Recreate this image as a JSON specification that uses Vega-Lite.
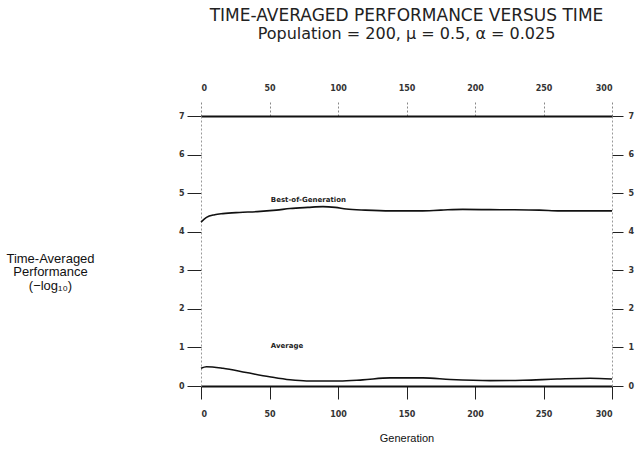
{
  "$schema": "https://vega.github.io/schema/vega-lite/v6.json",
  "width": 411,
  "height": 270,
  "autosize": {"type": "none"},
  "padding": {"left": 201, "top": 116, "right": 23, "bottom": 66},
  "background": "white",
  "title": {
    "text": "TIME-AVERAGED PERFORMANCE VERSUS TIME",
    "subtitle": "Population = 200, μ = 0.5, α = 0.025",
    "font": "DejaVu Sans",
    "fontSize": 17,
    "fontWeight": "normal",
    "subtitleFont": "DejaVu Sans",
    "subtitleFontSize": 16,
    "subtitlePadding": 1,
    "anchor": "middle",
    "offset": 41,
    "color": "#222",
    "subtitleColor": "#222"
  },
  "config": {"view": {"stroke": null}},
  "layer": [
    {
      "data": {
        "values": [
          {"gen": 0, "value": 4.25, "series": "Best-of-Generation"},
          {"gen": 4, "value": 4.37, "series": "Best-of-Generation"},
          {"gen": 10, "value": 4.44, "series": "Best-of-Generation"},
          {"gen": 16, "value": 4.47, "series": "Best-of-Generation"},
          {"gen": 28, "value": 4.50, "series": "Best-of-Generation"},
          {"gen": 41, "value": 4.52, "series": "Best-of-Generation"},
          {"gen": 55, "value": 4.56, "series": "Best-of-Generation"},
          {"gen": 65, "value": 4.60, "series": "Best-of-Generation"},
          {"gen": 78, "value": 4.63, "series": "Best-of-Generation"},
          {"gen": 89, "value": 4.65, "series": "Best-of-Generation"},
          {"gen": 98, "value": 4.63, "series": "Best-of-Generation"},
          {"gen": 106, "value": 4.59, "series": "Best-of-Generation"},
          {"gen": 120, "value": 4.56, "series": "Best-of-Generation"},
          {"gen": 138, "value": 4.54, "series": "Best-of-Generation"},
          {"gen": 160, "value": 4.54, "series": "Best-of-Generation"},
          {"gen": 175, "value": 4.56, "series": "Best-of-Generation"},
          {"gen": 191, "value": 4.58, "series": "Best-of-Generation"},
          {"gen": 220, "value": 4.57, "series": "Best-of-Generation"},
          {"gen": 247, "value": 4.56, "series": "Best-of-Generation"},
          {"gen": 262, "value": 4.54, "series": "Best-of-Generation"},
          {"gen": 280, "value": 4.54, "series": "Best-of-Generation"},
          {"gen": 300, "value": 4.54, "series": "Best-of-Generation"},
          {"gen": 0, "value": 0.46, "series": "Average"},
          {"gen": 4, "value": 0.50, "series": "Average"},
          {"gen": 16, "value": 0.46, "series": "Average"},
          {"gen": 33, "value": 0.35, "series": "Average"},
          {"gen": 50, "value": 0.24, "series": "Average"},
          {"gen": 65, "value": 0.16, "series": "Average"},
          {"gen": 77, "value": 0.13, "series": "Average"},
          {"gen": 101, "value": 0.13, "series": "Average"},
          {"gen": 118, "value": 0.16, "series": "Average"},
          {"gen": 138, "value": 0.21, "series": "Average"},
          {"gen": 162, "value": 0.21, "series": "Average"},
          {"gen": 182, "value": 0.17, "series": "Average"},
          {"gen": 211, "value": 0.14, "series": "Average"},
          {"gen": 235, "value": 0.15, "series": "Average"},
          {"gen": 260, "value": 0.18, "series": "Average"},
          {"gen": 284, "value": 0.20, "series": "Average"},
          {"gen": 300, "value": 0.18, "series": "Average"}
        ]
      },
      "mark": {"type": "line", "color": "#111", "strokeWidth": 1.6, "interpolate": "monotone"},
      "encoding": {
        "x": {
          "field": "gen", "type": "quantitative",
          "scale": {"domain": [0, 300], "nice": false},
          "axis": {
            "orient": "bottom", "values": [0, 50, 100, 150, 200, 250, 300],
            "grid": false, "domainColor": "#111", "domainWidth": 2,
            "tickColor": "#222", "tickSize": 13, "tickWidth": 1,
            "labelFont": "DejaVu Sans", "labelFontSize": 8, "labelFontWeight": "bold", "labelColor": "#333",
            "labelPadding": 11,
            "title": "Generation", "titleFont": "Liberation Sans", "titleFontSize": 11,
            "titleFontWeight": "normal", "titleColor": "#111", "titlePadding": 14
          }
        },
        "y": {
          "field": "value", "type": "quantitative",
          "scale": {"domain": [0, 7], "nice": false},
          "axis": {
            "orient": "left", "values": [0, 1, 2, 3, 4, 5, 6, 7],
            "grid": false, "domainColor": "#999", "domainDash": [2, 2], "domainWidth": 1,
            "tickColor": "#222", "tickSize": 14, "tickWidth": 1,
            "labelFont": "DejaVu Sans", "labelFontSize": 8, "labelFontWeight": "bold", "labelColor": "#333",
            "labelPadding": 3,
            "title": ["Time-Averaged", "Performance", "(−log₁₀)"],
            "titleFont": "Liberation Sans", "titleFontSize": 13, "titleFontWeight": "normal",
            "titleColor": "#111", "titleAngle": 0, "titleAlign": "center", "titleBaseline": "top",
            "titleX": -151, "titleY": 136, "titleLineHeight": 13.5
          }
        },
        "detail": {"field": "series", "type": "nominal"}
      }
    },
    {
      "data": {
        "values": [
          {"gen": 51, "value": 4.82, "label": "Best-of-Generation"},
          {"gen": 51, "value": 1.04, "label": "Average"}
        ]
      },
      "mark": {"type": "text", "align": "left", "baseline": "middle", "font": "DejaVu Sans", "fontSize": 7, "fontWeight": "bold", "color": "#222"},
      "encoding": {
        "x": {
          "field": "gen", "type": "quantitative",
          "scale": {"domain": [0, 300], "nice": false},
          "axis": {
            "orient": "top", "values": [0, 50, 100, 150, 200, 250, 300],
            "grid": false, "domainColor": "#111", "domainWidth": 2,
            "tickColor": "#888", "tickSize": 15, "tickWidth": 1, "tickDash": [2, 2],
            "labelFont": "DejaVu Sans", "labelFontSize": 8, "labelFontWeight": "bold", "labelColor": "#333",
            "labelPadding": 9, "title": null
          }
        },
        "y": {
          "field": "value", "type": "quantitative",
          "scale": {"domain": [0, 7], "nice": false},
          "axis": {
            "orient": "right", "values": [0, 1, 2, 3, 4, 5, 6, 7],
            "grid": false, "domainColor": "#999", "domainDash": [2, 2], "domainWidth": 1,
            "tickColor": "#222", "tickSize": 11, "tickWidth": 1,
            "labelFont": "DejaVu Sans", "labelFontSize": 8, "labelFontWeight": "bold", "labelColor": "#333",
            "labelPadding": 5, "title": null
          }
        },
        "text": {"field": "label", "type": "nominal"}
      }
    }
  ],
  "resolve": {"axis": {"x": "independent", "y": "independent"}}
}
